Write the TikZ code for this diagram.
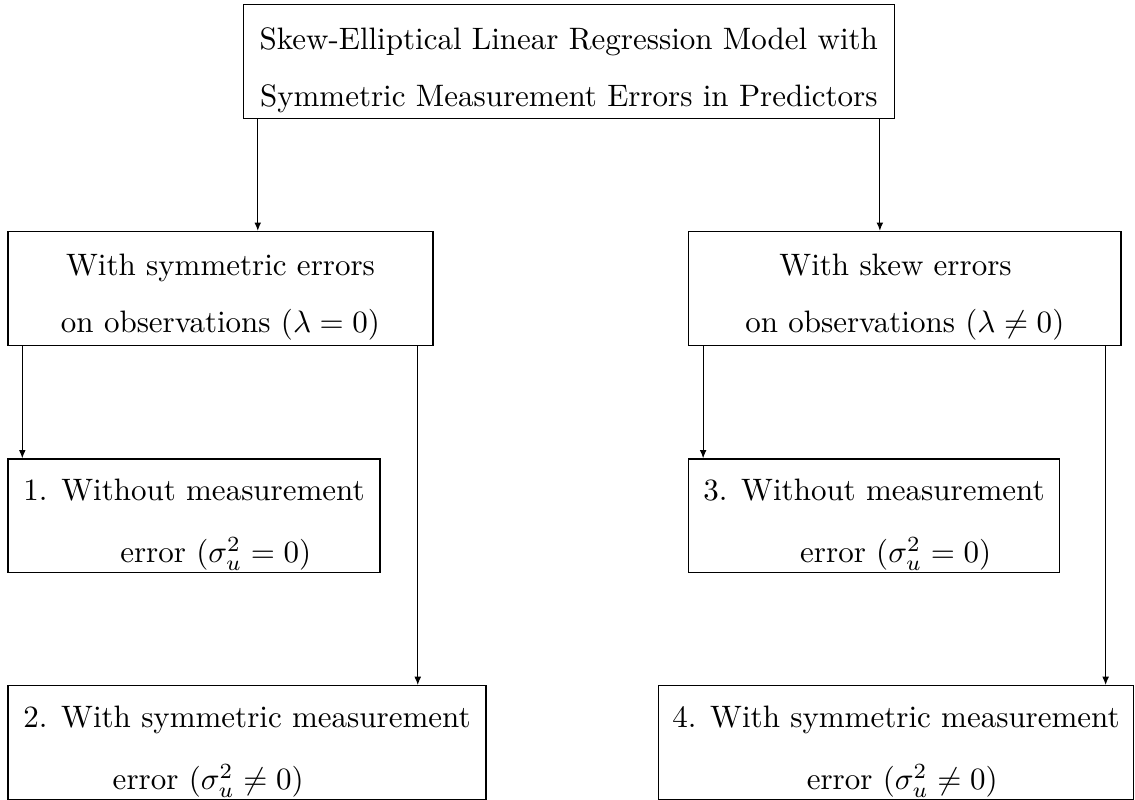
\documentclass[tikz,border=0pt]{standalone}
\usepackage{amsmath}
\usepackage{amssymb}
\usepackage{tikz}
\usetikzlibrary{positioning, arrows.meta}

% taller first line, pushes the text a bit lower in its box
\newcommand{\topstrut}{\rule{0pt}{12.7pt}}

\tikzset{
    block/.style={draw, align=center, inner sep=0pt, minimum height=1.29cm,
        font=\fontsize{10}{14.5}\selectfont},
    link/.style={-{Latex[length=2.7pt, width=2.2pt]}}
}

\begin{document}
\begin{tikzpicture}
        \useasboundingbox (0, 0) rectangle (12.87, -9.07);

        \node[block, minimum width=7.38cm] (model) at (6.45, -0.70) {\topstrut Skew-Elliptical Linear Regression Model with\\[3.9pt]Symmetric Measurement Errors in Predictors};

        \node[block, minimum width=4.82cm] (sym) at (2.50, -3.27) {\topstrut With symmetric errors\\[3.9pt]on observations ($\lambda = 0$)};
        \node[block, minimum width=4.90cm] (skew) at (10.26, -3.27) {\topstrut With skew errors\hspace*{6pt}\\[3.9pt]on observations ($\lambda \neq 0$)};

        \node[block, minimum width=4.22cm] (m1) at (2.20, -5.85) {\topstrut 1. Without measurement\\[5.5pt]\hspace*{14pt}error ($\sigma_u^2 = 0$)};
        \node[block, minimum width=5.42cm] (m2) at (2.80, -8.42) {\topstrut 2. With symmetric measurement\\[5.5pt]error ($\sigma_u^2 \neq 0$)\hspace*{25pt}};
        \node[block, minimum width=4.21cm] (m3) at (9.91, -5.85) {\topstrut 3. Without measurement\\[5.5pt]\hspace*{14pt}error ($\sigma_u^2 = 0$)};
        \node[block, minimum width=5.39cm] (m4) at (10.16, -8.42) {\topstrut 4. With symmetric measurement\\[5.5pt]\hspace*{4pt}error ($\sigma_u^2 \neq 0$)};

        % arrow feet, just inside the box corners
        \coordinate (a) at ([xshift=0.17cm]model.south west);
        \coordinate (b) at ([xshift=-0.17cm]model.south east);
        \coordinate (c) at ([xshift=0.17cm]sym.south west);
        \coordinate (d) at ([xshift=-0.18cm]sym.south east);
        \coordinate (e) at ([xshift=0.17cm]skew.south west);
        \coordinate (f) at ([xshift=-0.18cm]skew.south east);

        \draw[link] (a) -- (a |- sym.north);
        \draw[link] (b) -- (b |- skew.north);
        \draw[link] (c) -- (c |- m1.north);
        \draw[link] (d) -- (d |- m2.north);
        \draw[link] (e) -- (e |- m3.north);
        \draw[link] (f) -- (f |- m4.north);
    \end{tikzpicture}
\end{document}
